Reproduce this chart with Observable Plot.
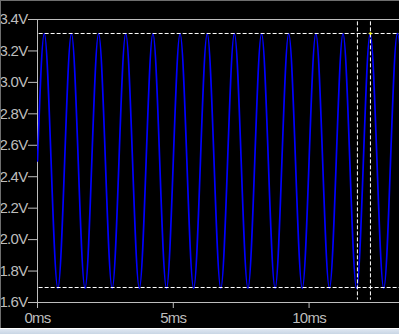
<!DOCTYPE html>
<html>
<head>
<meta charset="utf-8">
<script src="https://cdn.jsdelivr.net/npm/d3@7"></script>
<script src="https://cdn.jsdelivr.net/npm/@observablehq/plot@0.6"></script>
<style>
  html, body { margin: 0; padding: 0; background: #000; }
  #wrap { position: relative; width: 399px; height: 334px; overflow: hidden; background: #000; }
  #wrap svg { display: block; }
  #wrap svg text { letter-spacing: -0.7px; }
  .chrome-top { position: absolute; left: 0; top: 0; width: 399px; height: 1px; background: #6e6e6e; }
  .chrome-left { position: absolute; left: 0; top: 0; width: 1px; height: 328px; background: #6e6e6e; }
  .chrome-bottom { position: absolute; left: 0; top: 328px; width: 399px; height: 6px;
    background: linear-gradient(#ffffff 0, #ffffff 1px, #dfe7f1 1px, #c9d6e5 6px); }
</style>
</head>
<body>
<div id="wrap"></div>
<script>
// Extrema of the waveform (time in ms, voltage in V)
const timesMs = [0, 0.25, 0.75, 1.25, 1.75, 2.25, 2.75, 3.25, 3.75, 4.25, 4.75,
  5.25, 5.75, 6.25, 6.75, 7.25, 7.75, 8.25, 8.75, 9.25, 9.75,
  10.25, 10.75, 11.25, 11.75, 12.25, 12.75, 13.25, 13.75];
const volts = [2.5, 3.31, 1.69, 3.31, 1.69, 3.31, 1.69, 3.31, 1.69, 3.31, 1.69,
  3.31, 1.69, 3.31, 1.69, 3.31, 1.69, 3.31, 1.69, 3.31, 1.69,
  3.31, 1.69, 3.31, 1.69, 3.31, 1.69, 3.31, 1.69];

// Axis ticks
const yTicks = [1.6, 1.8, 2.0, 2.2, 2.4, 2.6, 2.8, 3.0, 3.2, 3.4];
const yTickLabels = ["1.6V", "1.8V", "2.0V", "2.2V", "2.4V", "2.6V", "2.8V", "3.0V", "3.2V", "3.4V"];
const xTicks = [0, 5, 10];
const xTickLabels = ["0ms", "5ms", "10ms"];

// Cursors
const cursorLevels = [3.311, 1.6954];
const cursorTimes = [11.78, 12.26];
const cursorMarkT = [12.26];
const cursorMarkV = [3.311];

const wave = timesMs.map((t, i) => ({t, v: volts[i]}));
const marker = cursorMarkT.map((t, i) => ({t, v: cursorMarkV[i]}));

const gray = "#bdbdbd";
const xMax = 13.33;

const chart = Plot.plot({
  width: 399,
  height: 334,
  marginLeft: 37,
  marginRight: 0,
  marginTop: 19,
  marginBottom: 32,
  style: {background: "#000", color: gray, fontFamily: "'Liberation Sans', Arial, sans-serif", fontSize: "15px"},
  x: {domain: [0, xMax], axis: null},
  y: {domain: [1.6, 3.4], axis: null},
  marks: [
    Plot.axisY(yTicks, {anchor: "left", tickSize: 9, tickPadding: 1, stroke: gray, fill: gray,
      tickFormat: d => yTickLabels[yTicks.indexOf(d)], label: null}),
    Plot.axisX(xTicks, {anchor: "bottom", tickSize: 6, tickPadding: 3.5, stroke: gray, fill: gray,
      tickFormat: d => xTickLabels[xTicks.indexOf(d)], label: null}),
    Plot.ruleX([0], {stroke: gray}),
    Plot.ruleY([3.4], {stroke: gray}),
    Plot.ruleY([1.6], {stroke: gray}),
    Plot.line(wave, {x: "t", y: "v", curve: "monotone-x", stroke: "#0000ff", strokeWidth: 1.7, clip: true}),
    Plot.ruleY(cursorLevels, {x1: 0.06, x2: xMax, stroke: "#ffffff", strokeDasharray: "4,2"}),
    Plot.ruleX(cursorTimes, {y1: 3.385, y2: 1.615, stroke: "#ffffff", strokeDasharray: "4,2"}),
    Plot.dot(marker, {x: "t", y: "v", r: 1.2, fill: "#ffff00", stroke: null})
  ]
});

const wrap = document.getElementById("wrap");
wrap.appendChild(chart);
["chrome-top", "chrome-left", "chrome-bottom"].forEach(c => {
  const d = document.createElement("div");
  d.className = c;
  wrap.appendChild(d);
});
</script>
</body>
</html>
